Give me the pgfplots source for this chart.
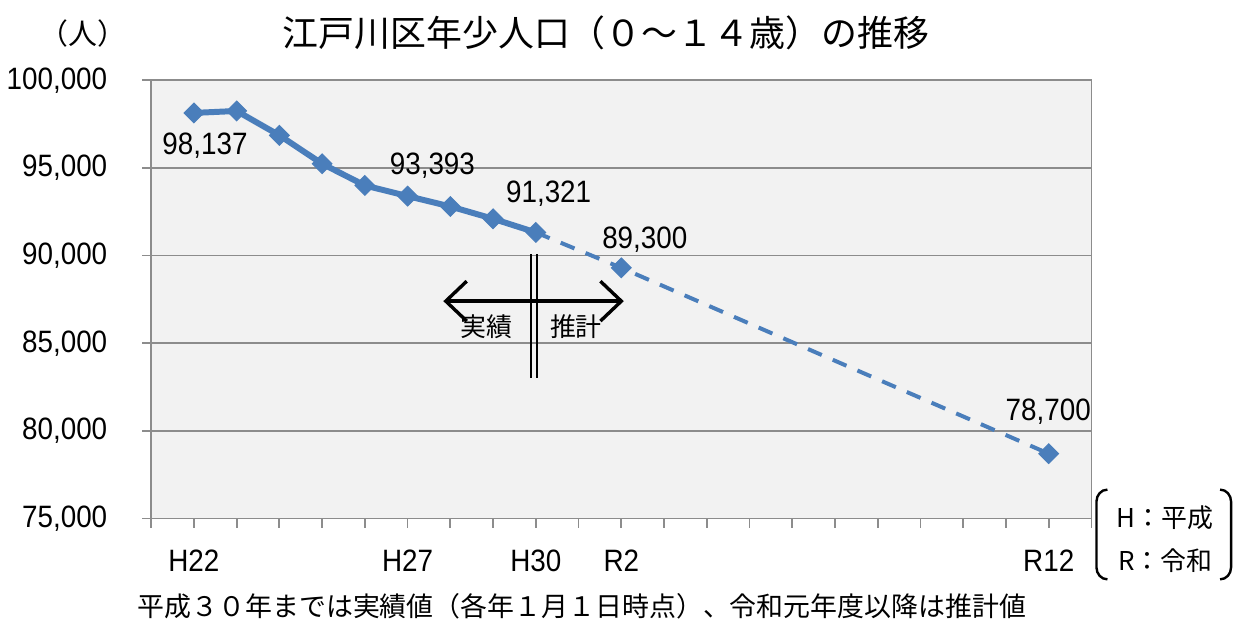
\documentclass[border=0pt]{standalone}
\usepackage{fontspec}
\setmainfont{Liberation Sans}[FakeStretch=0.9]
\newfontfamily\jp{Noto Sans CJK JP}
\usepackage{pgfplots}
\pgfplotsset{compat=1.18}
\usetikzlibrary{arrows.meta}
\definecolor{lineblue}{HTML}{4A7EBB}
\definecolor{bggray}{HTML}{F2F2F2}
\definecolor{gridgray}{HTML}{8C8C8C}
\newcommand{\lblfont}{\fontsize{15.5}{18}\selectfont}
\begin{document}
\begin{tikzpicture}
\begin{scope}[x=0.5pt,y=-0.5pt]
\path[use as bounding box] (0,0) rectangle (1248,624);
\end{scope}
\begin{axis}[
  at={(74pt,-260pt)}, anchor=south west,
  scale only axis, width=471.5pt, height=219.75pt,
  xmin=-1, xmax=21, ymin=75000, ymax=100000,
  xtick={-1,...,21},
  xticklabels={,H22,,,,,H27,,,H30,,R2,,,,,,,,,,R12,},
  ytick={75000,80000,85000,90000,95000,100000},
  yticklabels={{75,000},{80,000},{85,000},{90,000},{95,000},{100,000}},
  scaled y ticks=false,
  tick pos=left, tick align=outside,
  major tick length=4.5pt,
  tick style={gridgray, line width=0.9pt},
  axis line style={gridgray, line width=0.9pt},
  ymajorgrids, grid style={gridgray, line width=0.9pt},
  axis background/.style={fill=bggray},
  yticklabel style={font=\lblfont, xshift=-14pt},
  xticklabel style={font=\lblfont, yshift=-7.5pt},
  clip=false,
]
\addplot[lineblue, line width=3pt, mark=square*, mark size=3.5pt,
  mark options={solid, fill=lineblue, draw=lineblue, line width=0.5pt, rotate=45}]
  coordinates {(0,98137)(1,98250)(2,96860)(3,95240)(4,94000)(5,93393)(6,92800)(7,92100)(8,91321)};
\addplot[lineblue, line width=2pt, dash pattern=on 7.5pt off 6pt, mark=square*, mark size=3.5pt,
  mark indices={2,3},
  mark options={solid, fill=lineblue, draw=lineblue, line width=0.5pt, rotate=45}]
  coordinates {(8,91321)(10,89300)(20,78700)};
\node[font=\lblfont] at (axis cs:0.26,96274) {98,137};
\node[font=\lblfont] at (axis cs:5.58,95108) {93,393};
\node[font=\lblfont] at (axis cs:8.30,93544) {91,321};
\node[font=\lblfont] at (axis cs:10.55,90928) {89,300};
\node[font=\lblfont] at (axis cs:19.99,81087) {78,700};
\end{axis}
\begin{scope}[x=0.5pt,y=-0.5pt]
\node[font=\jp\fontsize{18}{20}\selectfont] at (604,33) {江戸川区年少人口（０～１４歳）の推移};
\node[font=\jp\fontsize{14.5}{16}\selectfont] at (80,34) {（人）};
\node[font=\jp\fontsize{13.5}{15}\selectfont] at (580,608) {平成３０年までは実績値（各年１月１日時点）、令和元年度以降は推計値};
\draw[line width=1.7pt, {Straight Barb[length=10.5pt,width=20pt]}-{Straight Barb[length=10.5pt,width=20pt]}] (441,302) -- (622,302);
\draw[line width=1pt] (529,255) -- (529,379);
\draw[line width=1pt] (534.5,255) -- (534.5,379);
\node[font=\jp\fontsize{13}{15}\selectfont] at (484,328) {実績};
\node[font=\jp\fontsize{13}{15}\selectfont] at (574,328) {推計};
\node[font=\jp\fontsize{13}{15}\selectfont] at (1165,519) {H：平成};
\node[font=\jp\fontsize{13}{15}\selectfont] at (1165,562) {R：令和};
\draw[line width=1.2pt] (1107,491) to[out=180,in=90] (1096,503) -- (1096,569) to[out=-90,in=180] (1107,581);
\draw[line width=1.2pt] (1220,491) to[out=0,in=90] (1231,503) -- (1231,569) to[out=-90,in=0] (1220,581);
\end{scope}
\end{tikzpicture}
\end{document}
